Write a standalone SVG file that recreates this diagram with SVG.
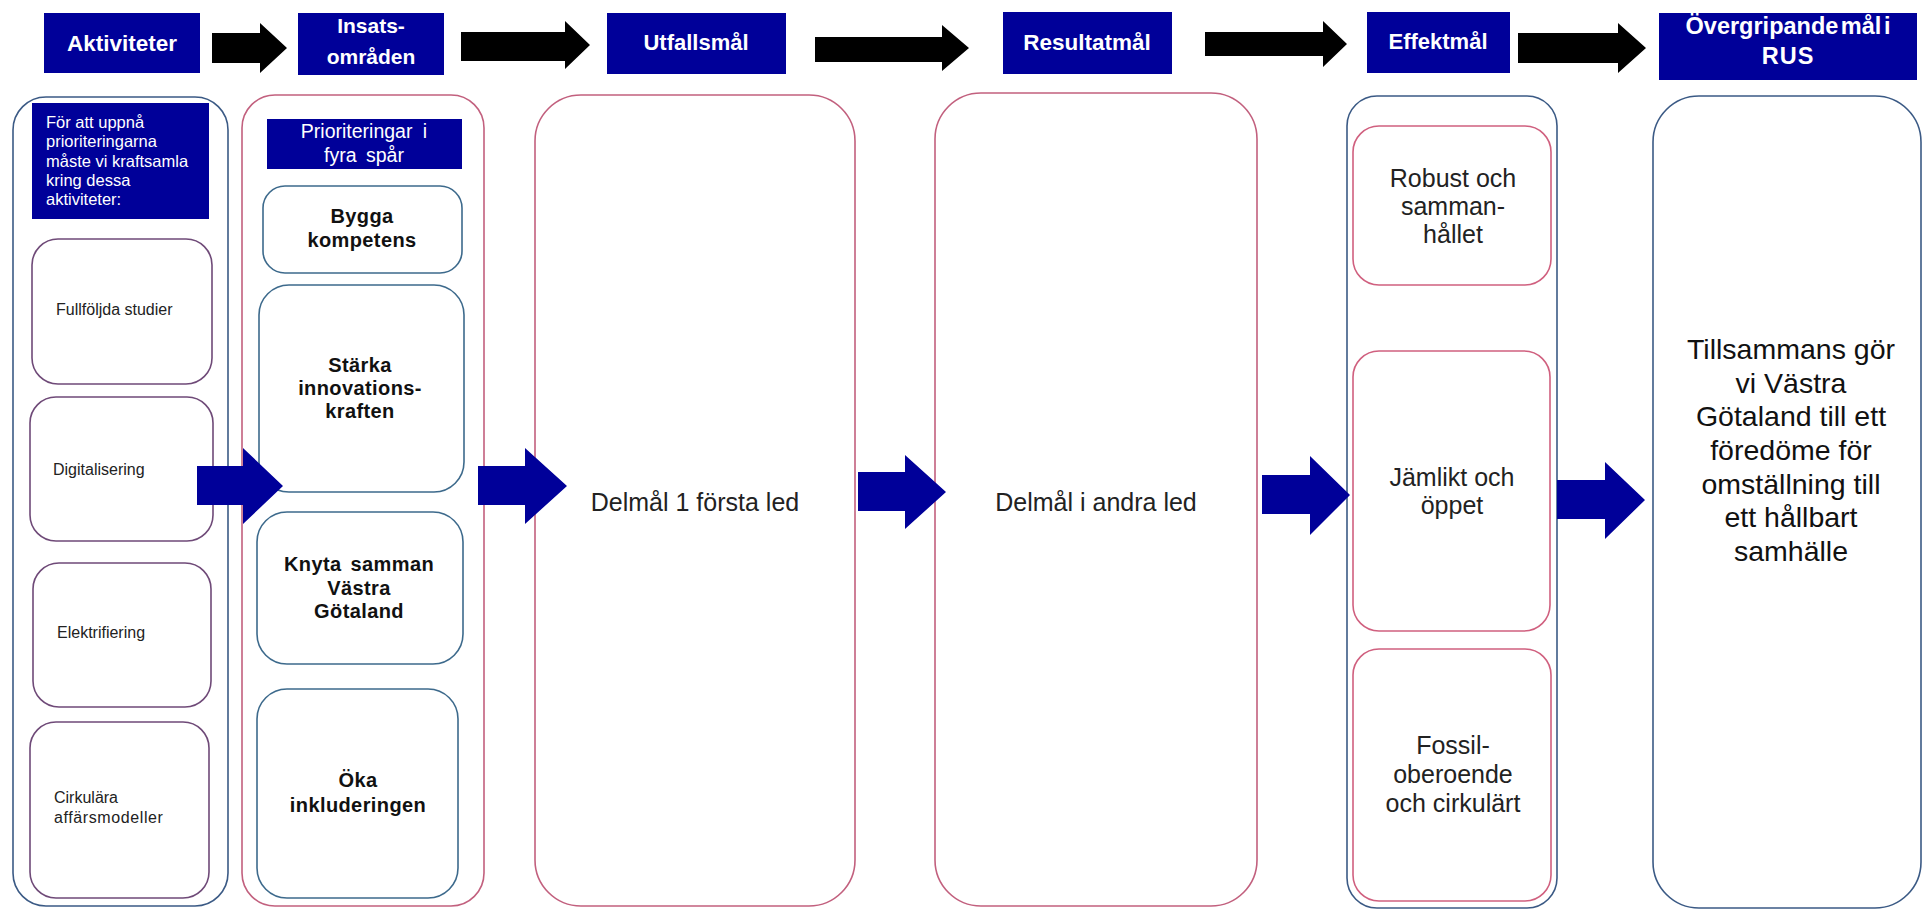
<svg xmlns="http://www.w3.org/2000/svg" width="1926" height="910" viewBox="0 0 1926 910">
<defs>
<style>
.hdr{fill:#000099}
.ht{fill:#ffffff;font-family:"Liberation Sans",Arial,sans-serif;font-weight:bold;text-anchor:middle}
.blk{fill:#000000}
.barr{fill:#000099}
.cont{fill:#ffffff;stroke-width:1.6}
.cb{stroke:#3b5a85}
.cp{stroke:#c2607e}
.ip{fill:#ffffff;stroke:#6f4a78;stroke-width:1.6}
.it{fill:#ffffff;stroke:#3d6a8c;stroke-width:1.6}
.ie{fill:#ffffff;stroke:#d0607f;stroke-width:1.6}
.sm{font-family:"Liberation Sans",Arial,sans-serif;font-size:16px;fill:#222222}
.wt{font-family:"Liberation Sans",Arial,sans-serif;fill:#ffffff}
.bd{font-family:"Liberation Sans",Arial,sans-serif;font-size:20px;font-weight:bold;fill:#111111;text-anchor:middle;letter-spacing:0.4px}
.lg{font-family:"Liberation Sans",Arial,sans-serif;font-size:25px;fill:#222222;text-anchor:middle}
.xl{font-family:"Liberation Sans",Arial,sans-serif;font-size:28.5px;fill:#111111;text-anchor:middle}
</style>
</defs>
<rect width="1926" height="910" fill="#ffffff"/>

<g id="header-aktiviteter">
<rect class="hdr" x="44" y="13" width="156" height="60"/>
<text class="ht" x="122" y="51" font-size="22.5">Aktiviteter</text>
</g>
<g id="header-insats">
<rect class="hdr" x="298" y="13" width="146" height="62"/>
<text class="ht" x="371" y="33" font-size="21">Insats-</text>
<text class="ht" x="371" y="64" font-size="21">områden</text>
</g>
<g id="header-utfall">
<rect class="hdr" x="607" y="13" width="179" height="61"/>
<text class="ht" x="696" y="50" font-size="22">Utfallsmål</text>
</g>
<g id="header-resultat">
<rect class="hdr" x="1003" y="12" width="169" height="62"/>
<text class="ht" x="1087" y="50" font-size="22.5">Resultatmål</text>
</g>
<g id="header-effekt">
<rect class="hdr" x="1367" y="12" width="143" height="61"/>
<text class="ht" x="1438" y="49" font-size="22">Effektmål</text>
</g>
<g id="header-rus">
<rect class="hdr" x="1659" y="13" width="258" height="67"/>
<text class="ht" x="1788" y="34" font-size="23.5" word-spacing="-4">Övergripande mål i</text>
<text class="ht" x="1788" y="64" font-size="23.5" letter-spacing="1">RUS</text>
</g>

<g id="col-aktiviteter">
<rect class="cont cb" x="13" y="97" width="215" height="809" rx="33" ry="33"/>
<rect class="hdr" x="32" y="103" width="177" height="116"/>
<text class="wt" font-size="16.5" x="46" y="128">För att uppnå</text>
<text class="wt" font-size="16.5" x="46" y="147">prioriteringarna</text>
<text class="wt" font-size="16.5" x="46" y="167">måste vi kraftsamla</text>
<text class="wt" font-size="16.5" x="46" y="186">kring dessa</text>
<text class="wt" font-size="16.5" x="46" y="205">aktiviteter:</text>
</g>
<g id="node-fullfoljda">
<rect class="ip" x="32" y="239" width="180" height="145" rx="26" ry="26"/>
<text class="sm" x="56" y="315">Fullföljda studier</text>
</g>
<g id="node-digitalisering">
<rect class="ip" x="30" y="397" width="183" height="144" rx="26" ry="26"/>
<text class="sm" x="53" y="475">Digitalisering</text>
</g>
<g id="node-elektrifiering">
<rect class="ip" x="33" y="563" width="178" height="144" rx="26" ry="26"/>
<text class="sm" x="57" y="638">Elektrifiering</text>
</g>
<g id="node-cirkulara">
<rect class="ip" x="30" y="722" width="179" height="176" rx="26" ry="26"/>
<text class="sm" x="54" y="803">Cirkulära</text>
<text class="sm" x="54" y="823" letter-spacing="0.6">affärsmodeller</text>
</g>

<g id="col-insats">
<rect class="cont cp" x="242" y="95" width="242" height="811" rx="33" ry="33"/>
<rect class="hdr" x="267" y="119" width="195" height="50"/>
<text class="wt" font-size="19.5" text-anchor="middle" x="364" y="138" word-spacing="5">Prioriteringar i</text>
<text class="wt" font-size="19.5" text-anchor="middle" x="364" y="162" word-spacing="4">fyra spår</text>
</g>
<g id="node-bygga">
<rect class="it" x="263" y="186" width="199" height="87" rx="22" ry="22"/>
<text class="bd" x="362" y="223">Bygga</text>
<text class="bd" x="362" y="247">kompetens</text>
</g>
<g id="node-starka">
<rect class="it" x="259" y="285" width="205" height="207" rx="30" ry="30"/>
<text class="bd" x="360" y="372">Stärka</text>
<text class="bd" x="360" y="395">innovations-</text>
<text class="bd" x="360" y="418">kraften</text>
</g>
<g id="node-knyta">
<rect class="it" x="257" y="512" width="206" height="152" rx="30" ry="30"/>
<text class="bd" x="359" y="571" word-spacing="3">Knyta samman</text>
<text class="bd" x="359" y="595">Västra</text>
<text class="bd" x="359" y="618">Götaland</text>
</g>
<g id="node-oka">
<rect class="it" x="257" y="689" width="201" height="209" rx="30" ry="30"/>
<text class="bd" x="358" y="787">Öka</text>
<text class="bd" x="358" y="812">inkluderingen</text>
</g>

<g id="node-utfall">
<rect class="cont cp" x="535" y="95" width="320" height="811" rx="46" ry="46"/>
<text class="lg" x="695" y="511">Delmål 1 första led</text>
</g>
<g id="node-resultat">
<rect class="cont cp" x="935" y="93" width="322" height="813" rx="46" ry="46"/>
<text class="lg" x="1096" y="511">Delmål i andra led</text>
</g>

<g id="col-effekt">
<rect class="cont cb" x="1347" y="96" width="210" height="812" rx="30" ry="30"/>
</g>
<g id="node-robust">
<rect class="ie" x="1353" y="126" width="198" height="159" rx="26" ry="26"/>
<text class="lg" x="1453" y="187">Robust och</text>
<text class="lg" x="1453" y="215">samman-</text>
<text class="lg" x="1453" y="243">hållet</text>
</g>
<g id="node-jamlikt">
<rect class="ie" x="1353" y="351" width="197" height="280" rx="26" ry="26"/>
<text class="lg" x="1452" y="486">Jämlikt och</text>
<text class="lg" x="1452" y="514">öppet</text>
</g>
<g id="node-fossil">
<rect class="ie" x="1353" y="649" width="198" height="252" rx="26" ry="26"/>
<text class="lg" x="1453" y="754">Fossil-</text>
<text class="lg" x="1453" y="783">oberoende</text>
<text class="lg" x="1453" y="812">och cirkulärt</text>
</g>

<g id="node-rus">
<rect class="cont cb" x="1653" y="96" width="268" height="812" rx="46" ry="46"/>
<text class="xl" x="1791" y="359">Tillsammans gör</text>
<text class="xl" x="1791" y="393">vi Västra</text>
<text class="xl" x="1791" y="426">Götaland till ett</text>
<text class="xl" x="1791" y="460">föredöme för</text>
<text class="xl" x="1791" y="494">omställning till</text>
<text class="xl" x="1791" y="527">ett hållbart</text>
<text class="xl" x="1791" y="561">samhälle</text>
</g>

<g id="connectors">
<polygon class="blk" points="212,33 260,33 260,23 287,48 260,73 260,63 212,63"/>
<polygon class="blk" points="461,32 565,32 565,21 590,45 565,69 565,61 461,61"/>
<polygon class="blk" points="815,37 942,37 942,25 969,48 942,71 942,62 815,62"/>
<polygon class="blk" points="1205,32 1323,32 1323,21 1347,44 1323,67 1323,56 1205,56"/>
<polygon class="blk" points="1518,33 1618,33 1618,23 1646,48 1618,73 1618,63 1518,63"/>
<polygon class="barr" points="197,466 243,466 243,448 283,486 243,524 243,505 197,505"/>
<polygon class="barr" points="478,466 525,466 525,448 567,486 525,524 525,505 478,505"/>
<polygon class="barr" points="858,472 905,472 905,455 946,492 905,529 905,511 858,511"/>
<polygon class="barr" points="1262,475 1310,475 1310,456 1350,495 1310,535 1310,514 1262,514"/>
<polygon class="barr" points="1557,480 1605,480 1605,462 1645,500 1605,539 1605,519 1557,519"/>
</g>
</svg>
